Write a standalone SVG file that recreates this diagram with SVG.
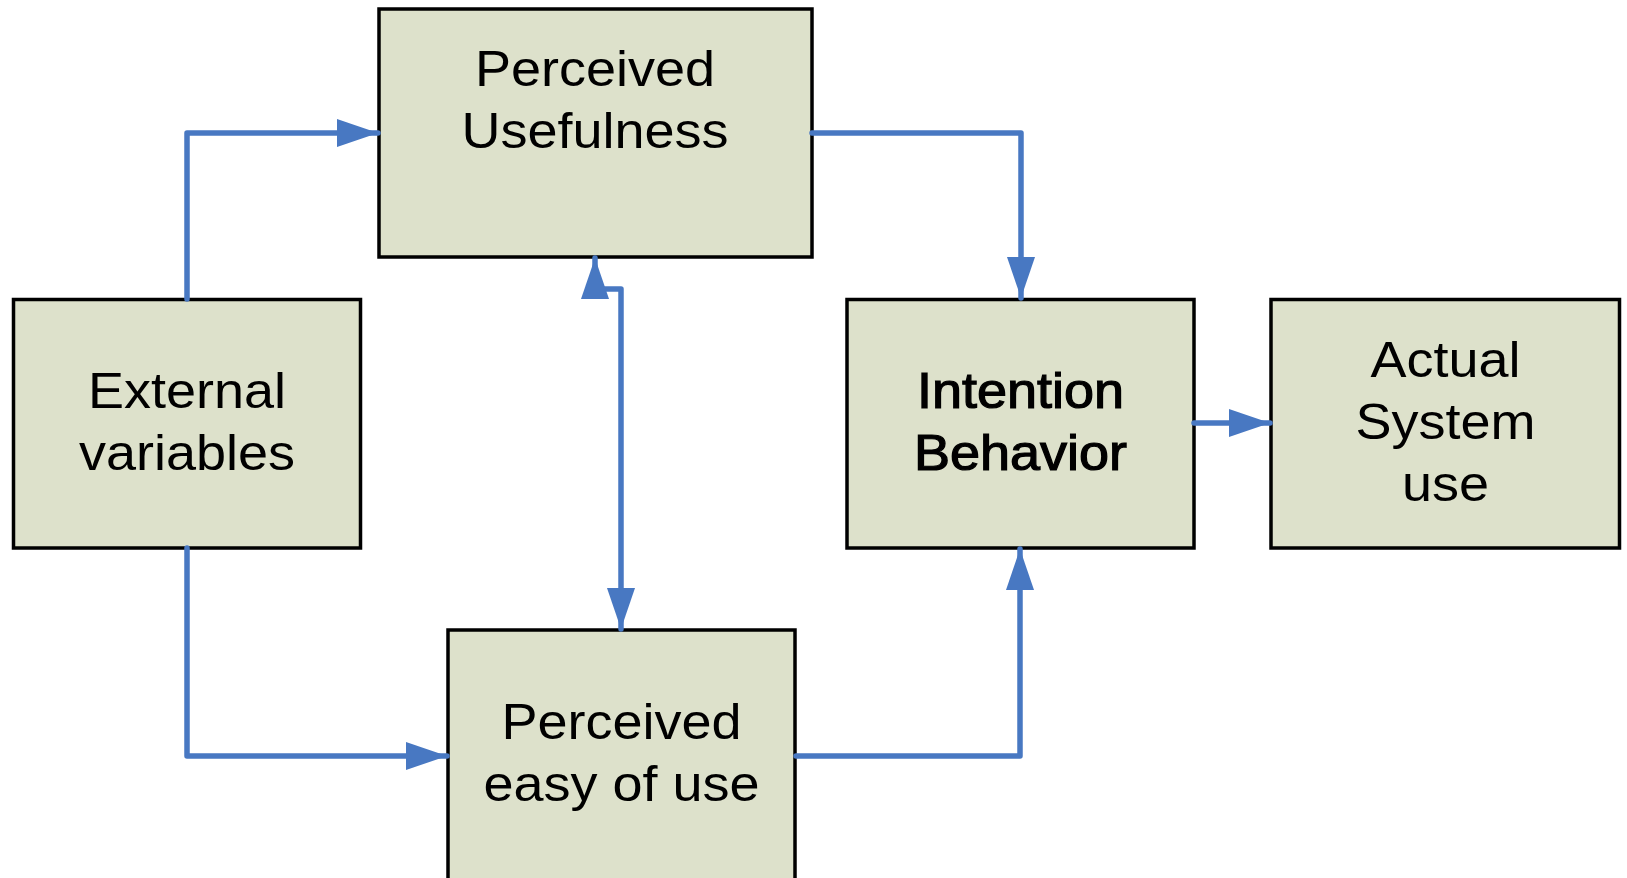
<svg xmlns="http://www.w3.org/2000/svg" width="1627" height="878" viewBox="0 0 1627 878">
  <style>
    .box { fill: #DDE1CB; stroke: #000; stroke-width: 3.5; }
    .lbl { font-family: "Liberation Sans", Arial, sans-serif; font-size: 50px; fill: #000; text-anchor: middle; }
    .bold { stroke: #000; stroke-width: 1.2; }
    .conn { fill: none; stroke: #4878C2; stroke-width: 5.5; stroke-linecap: round; stroke-linejoin: round; }
  </style>
  <defs>
    <marker id="arrow" markerUnits="userSpaceOnUse" markerWidth="41" markerHeight="28" refX="41" refY="14" orient="auto-start-reverse">
      <path d="M0,0 L41,14 L0,28 Z" fill="#4878C2"/>
    </marker>
  </defs>
  <rect x="0" y="0" width="1627" height="878" fill="#fff"/>

  <g id="perceived-usefulness">
    <rect class="box" x="379" y="9" width="433" height="248"/>
    <text class="lbl" transform="matrix(1.08 0 0 1 595 0)"><tspan x="0" y="86">Perceived</tspan><tspan x="0" y="148">Usefulness</tspan></text>
  </g>
  <g id="external-variables">
    <rect class="box" x="13.5" y="299.5" width="347" height="248.5"/>
    <text class="lbl" transform="matrix(1.08 0 0 1 187 0)"><tspan x="0" y="408">External</tspan><tspan x="0" y="470">variables</tspan></text>
  </g>
  <g id="intention-behavior">
    <rect class="box" x="847" y="299.5" width="347" height="248.5"/>
    <text class="lbl bold" transform="matrix(1.08 0 0 1 1020.5 0)"><tspan x="0" y="408">Intention</tspan><tspan x="0" y="470">Behavior</tspan></text>
  </g>
  <g id="actual-system-use">
    <rect class="box" x="1271" y="299.5" width="348.5" height="248.5"/>
    <text class="lbl" transform="matrix(1.08 0 0 1 1445.5 0)"><tspan x="0" y="377">Actual</tspan><tspan x="0" y="439">System</tspan><tspan x="0" y="501">use</tspan></text>
  </g>
  <g id="perceived-easy-of-use">
    <rect class="box" x="448" y="630" width="347" height="262"/>
    <text class="lbl" transform="matrix(1.08 0 0 1 621.5 0)"><tspan x="0" y="739">Perceived</tspan><tspan x="0" y="801">easy of use</tspan></text>
  </g>

  <g id="connectors">
    <path class="conn" d="M187,299 V133 H378" marker-end="url(#arrow)"/>
    <path class="conn" d="M812,133 H1021 V298" marker-end="url(#arrow)"/>
    <path class="conn" d="M1194,423 H1270" marker-end="url(#arrow)"/>
    <path class="conn" d="M187,548 V756 H447" marker-end="url(#arrow)"/>
    <path class="conn" d="M796,756 H1020 V549" marker-end="url(#arrow)"/>
    <path class="conn" d="M595,258 V289 H621 V629" marker-start="url(#arrow)" marker-end="url(#arrow)"/>
  </g>
</svg>
